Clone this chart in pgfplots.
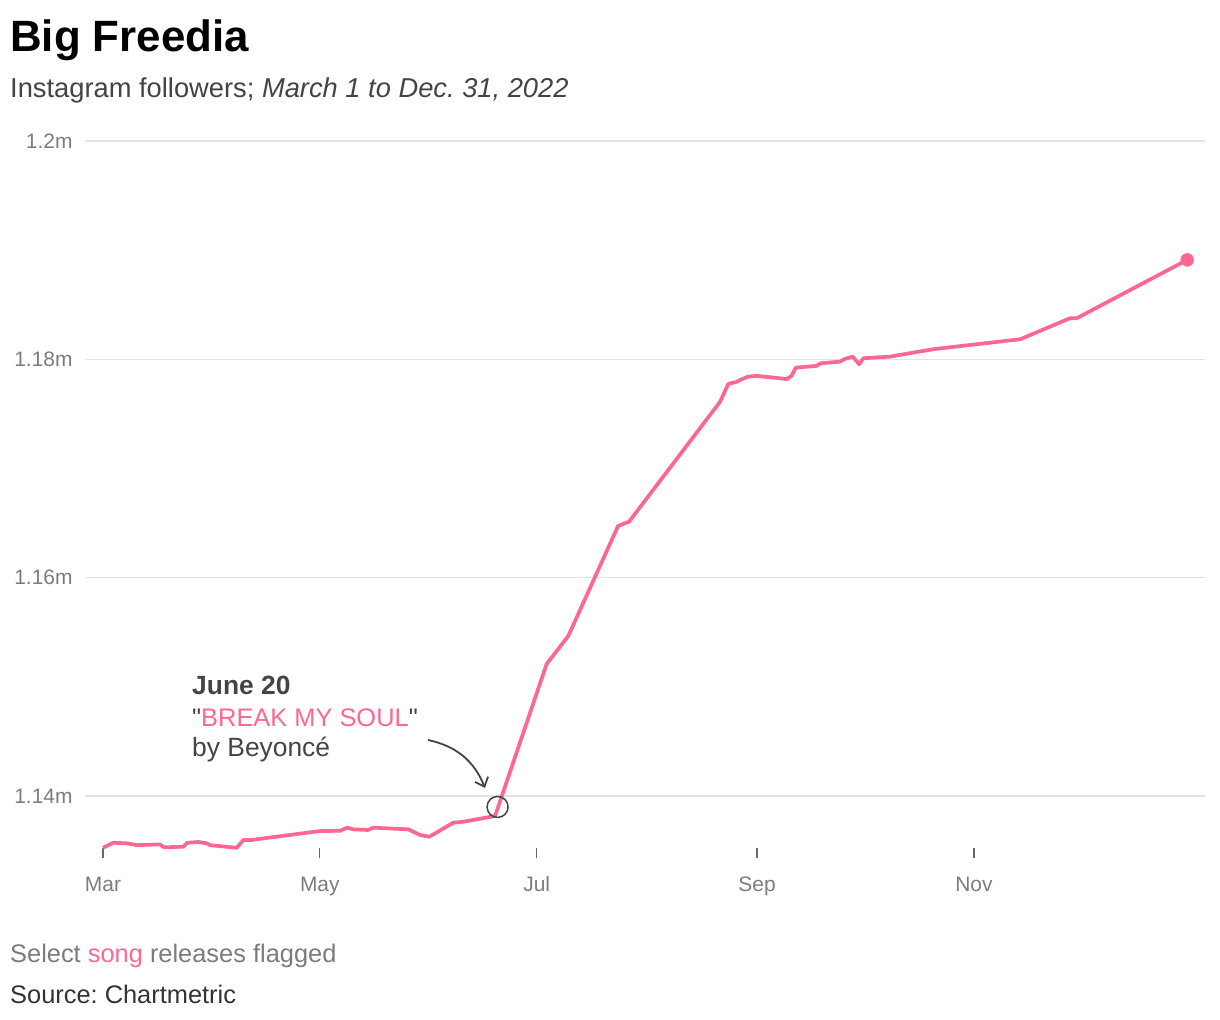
\documentclass[border=0pt]{standalone}
\usepackage{fontspec}
\setmainfont{Liberation Sans}[Ligatures=TeXOff]
\usepackage{pgfplots}
\pgfplotsset{compat=1.18}
\usetikzlibrary{arrows.meta}

\definecolor{hotpink}{HTML}{FF6791}
\definecolor{gridgray}{HTML}{E3E3E3}
\definecolor{ticktext}{HTML}{7C7C7C}
\definecolor{darktext}{HTML}{444444}
\frenchspacing

\begin{document}
\begin{tikzpicture}
\path[use as bounding box] (0,0) rectangle (1220bp,1020bp);

% titles
\node[anchor=base west, inner sep=0pt] at (10bp,968bp)
  {\fontsize{44}{48}\selectfont\bfseries Big Freedia};
\node[anchor=base west, inner sep=0pt, text=darktext] at (10bp,922bp)
  {\fontsize{27.4}{30}\selectfont Instagram followers; \itshape March 1 to Dec. 31, 2022};

\begin{axis}[
    at={(85bp,172bp)}, anchor=south west,
    scale only axis,
    width=1120bp, height=707bp,
    xmin=-5.06, xmax=310,
    ymin=1.13524, ymax=1.2,
    clip=false,
    axis x line*=bottom, axis y line*=left,
    axis line style={draw=none},
    xtick={0,61,122,184,245},
    xticklabels={Mar,May,Jul,Sep,Nov},
    ytick={1.14,1.16,1.18,1.2},
    yticklabels={1.14m,1.16m,1.18m,1.2m},
    /pgf/number format/assume math mode=true,
    ymajorgrids,
    grid style={gridgray, line width=1.5bp},
    tick align=outside,
    major tick length=10bp,
    xtick style={draw=darktext!80, line width=1.2bp},
    ytick style={draw=none},
    ticklabel style={font=\fontsize{21}{24}\selectfont, text=ticktext},
    xticklabel style={anchor=north, text height=15bp, text depth=5bp, yshift=-15bp},
    yticklabel style={xshift=1bp},
]
\addplot[hotpink, line width=3.7bp, line join=round] coordinates {
(0,1.13526) (2.9,1.13572) (6.7,1.13567) (9.5,1.13550) (16,1.13557)
(17.2,1.13530) (22.6,1.13536) (23.7,1.13572) (26.8,1.13579) (29.2,1.13567)
(30.1,1.13550) (37.6,1.13526) (39.5,1.13597) (41.8,1.13597) (45.1,1.13612)
(61,1.13679) (66.7,1.13682) (68.7,1.13710) (70.4,1.13695) (74.6,1.13689)
(76,1.13710) (85.9,1.13695) (89.2,1.13643) (91.8,1.13627) (98.5,1.13755)
(101.4,1.13765) (110.3,1.13817) (124.8,1.15209) (130.9,1.15466) (144.9,1.16474)
(148,1.16513) (173.6,1.17612) (175.9,1.17775) (178.2,1.17793) (179.2,1.17811)
(181.5,1.17842) (183.9,1.17848) (190.4,1.17827) (192.3,1.17818) (193.7,1.17848)
(194.9,1.17924) (200.7,1.17940) (201.9,1.17964) (207.3,1.17979) (208.7,1.18004)
(210.9,1.18025) (212.7,1.17955) (213.9,1.18010) (221.4,1.18025) (233.6,1.18093)
(258,1.18184) (272,1.18376) (273.9,1.18376) (305,1.18911)
};
% last value
\addplot[only marks, mark=*, mark size=6.5bp, hotpink] coordinates {(305,1.18911)};
% June 20 release
\addplot[only marks, mark=o, mark size=10.5bp, mark options={draw=darktext, line width=1.5bp}]
  coordinates {(111,1.13900)};
\end{axis}

% annotation
\node[anchor=base west, inner sep=0pt, text=darktext] at (192bp,325bp)
  {\fontsize{26.5}{30}\selectfont\bfseries June 20};
\node[anchor=base west, inner sep=0pt, text=darktext] at (192bp,293bp)
  {\fontsize{25.5}{30}\selectfont "\textcolor{hotpink}{BREAK MY SOUL}"};
\node[anchor=base west, inner sep=0pt, text=darktext] at (192bp,263bp)
  {\fontsize{26.5}{30}\selectfont by Beyoncé};
\draw[darktext, line width=1.8bp, -{Straight Barb[length=8bp,width=14bp]}]
  (428bp,280bp) to[bend left=28] (485bp,232bp);

% footer
\node[anchor=base west, inner sep=0pt, text=ticktext] at (10bp,57bp)
  {\fontsize{25.5}{30}\selectfont Select \textcolor{hotpink}{song} releases flagged};
\node[anchor=base west, inner sep=0pt, text=black!80] at (10bp,17bp)
  {\fontsize{25.5}{30}\selectfont Source: Chartmetric};
\end{tikzpicture}
\end{document}
